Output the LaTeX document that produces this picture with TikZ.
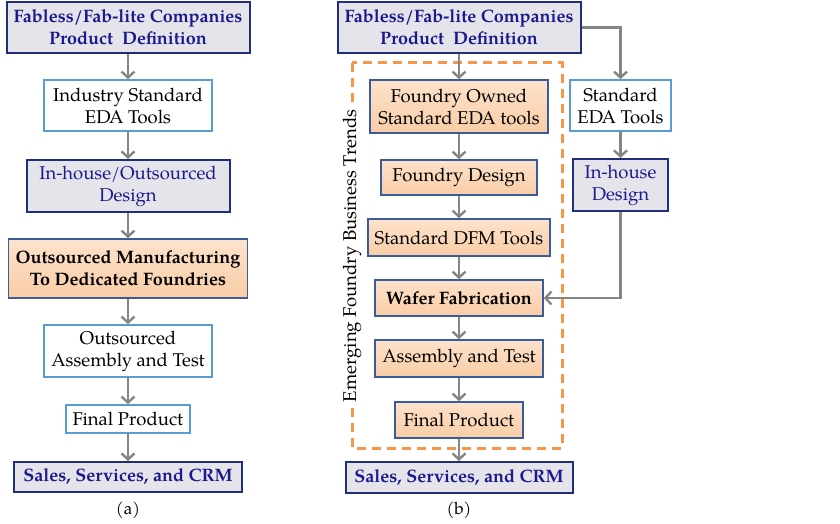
\documentclass[tikz,border=0pt]{standalone}
\usepackage{fontspec}
\setmainfont{TeX Gyre Pagella}
\usetikzlibrary{arrows.meta}
\definecolor{navy}{HTML}{1F2F7A}
\definecolor{navytext}{HTML}{1A1A8C}
\definecolor{hdrfill}{HTML}{E4E4EA}
\definecolor{peachtop}{HTML}{FDE2CB}
\definecolor{peachbot}{HTML}{F9CDA6}
\definecolor{lightblue}{HTML}{5B9BD5}
\definecolor{peachborder}{HTML}{3B5C9C}
\definecolor{arrowgray}{HTML}{858585}
\definecolor{dashorange}{HTML}{F79646}
\tikzset{
  base/.style={rectangle, inner sep=0pt, align=center, font=\fontsize{18.5}{22}\selectfont},
  hdr/.style={base, fill=hdrfill, draw=navy, line width=2pt, text=navytext, font=\fontsize{18}{22}\selectfont\bfseries},
  grayb/.style={base, fill=hdrfill, draw=navy, line width=2pt, text=navytext},
  plain/.style={base, fill=white, draw=lightblue, line width=1.6pt},
  peachbox/.style={base, top color=peachtop, bottom color=peachbot, draw=peachborder, line width=1.6pt},
  boldtext/.style={font=\fontsize{18}{22}\selectfont\bfseries},
  flow/.style={draw=arrowgray, line width=2.4pt, -{Straight Barb[length=6pt,width=13pt]}},
  caption/.style={font=\fontsize{17}{20}\selectfont},
}
\begin{document}
\begin{tikzpicture}[x=1pt,y=-1pt]
\useasboundingbox[fill=white] (0,0) rectangle (840,524);

% (a)
\node[hdr, minimum width=243pt, minimum height=51pt] (a1) at (128,27.5) {Fabless/Fab-lite Companies\\Product\ \ Definition};
\node[plain, minimum width=168pt, minimum height=51pt] (a2) at (128,105.5) {Industry Standard\\EDA Tools};
\node[grayb, minimum width=203pt, minimum height=52pt] (a3) at (128,186) {In-house/Outsourced\\Design};
\node[peachbox, boldtext, minimum width=239pt, minimum height=59pt] (a4) at (128,268.5) {Outsourced Manufacturing\\To Dedicated Foundries};
\node[plain, minimum width=168pt, minimum height=52pt] (a5) at (128,351) {Outsourced\\Assembly and Test};
\node[plain, minimum width=124pt, minimum height=28pt] (a6) at (128,419) {Final Product};
\node[hdr, minimum width=228pt, minimum height=30pt] (a7) at (128,477) {Sales, Services, and CRM};
\node[caption] (capa) at (128,510) {(a)};

\draw[flow] (a1) -- (a2);
\draw[flow] (a2) -- (a3);
\draw[flow] (a3) -- (a4);
\draw[flow] (a4) -- (a5);
\draw[flow] (a5) -- (a6);
\draw[flow] (a6) -- (a7);

% (b)
\draw[dashorange, line width=3pt, dash pattern=on 9pt off 6pt] (352,63) rectangle (562,448);
\node[base, rotate=90, fill=white, inner sep=3pt] (trend) at (352,256) {Emerging Foundry Business Trends};

\node[hdr, minimum width=243pt, minimum height=51pt] (b1) at (459,27.5) {Fabless/Fab-lite Companies\\Product\ \ Definition};
\node[peachbox, minimum width=178pt, minimum height=53pt] (b2) at (459,106.5) {Foundry Owned\\Standard EDA tools};
\node[peachbox, minimum width=156pt, minimum height=35pt] (b3) at (459,177.5) {Foundry Design};
\node[peachbox, minimum width=182pt, minimum height=37pt] (b4) at (459,237.5) {Standard DFM Tools};
\node[peachbox, boldtext, minimum width=168pt, minimum height=36pt] (b5) at (459,298) {Wafer Fabrication};
\node[peachbox, minimum width=168pt, minimum height=37pt] (b6) at (459,358.5) {Assembly and Test};
\node[peachbox, minimum width=128pt, minimum height=36pt] (b7) at (459,420) {Final Product};
\node[hdr, minimum width=227pt, minimum height=31pt] (b8) at (459,477.5) {Sales, Services, and CRM};
\node[caption] (capb) at (459,510) {(b)};

\node[plain, minimum width=101pt, minimum height=51pt] (c1) at (620.5,105.5) {Standard\\EDA Tools};
\node[grayb, minimum width=95pt, minimum height=52pt] (c2) at (620.5,185) {In-house\\Design};

\draw[flow] (b1) -- (b2);
\draw[flow] (b2) -- (b3);
\draw[flow] (b3) -- (b4);
\draw[flow] (b4) -- (b5);
\draw[flow] (b5) -- (b6);
\draw[flow] (b6) -- (b7);
\draw[flow] (b7) -- (b8);
\draw[flow] (b1.east) -| (c1.north);
\draw[flow] (c1) -- (c2);
\draw[flow] (c2.south) |- (b5.east);
\end{tikzpicture}
\end{document}
